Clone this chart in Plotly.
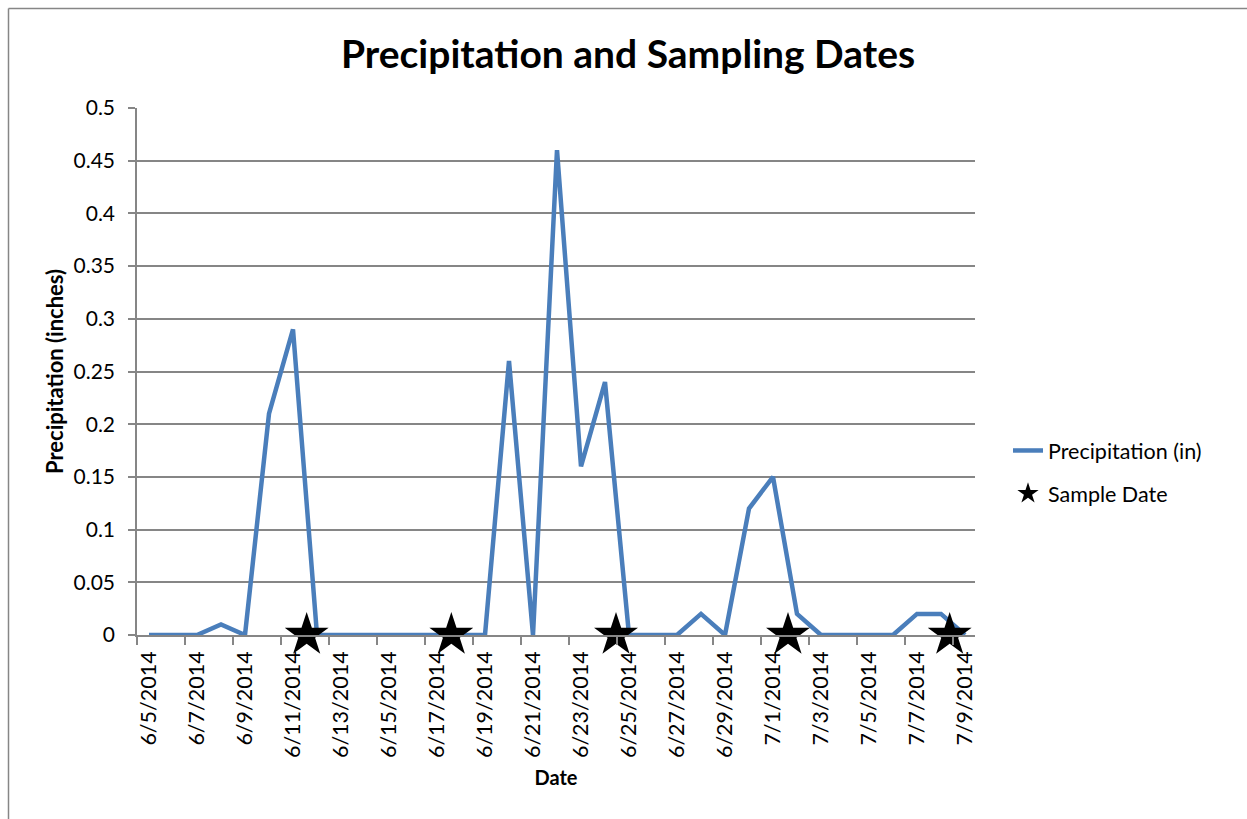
import plotly.graph_objects as go
import pandas as pd

dates = pd.date_range("2014-06-05", "2014-07-09", freq="D")
precip = [0, 0, 0, 0.01, 0, 0.21, 0.29, 0, 0, 0, 0, 0, 0, 0, 0,
          0.26, 0, 0.46, 0.16, 0.24, 0, 0, 0, 0.02, 0, 0.12, 0.15, 0.02,
          0, 0, 0, 0, 0.02, 0.02, 0]
sample_dates = ["2014-06-11 13:40", "2014-06-17 14:20", "2014-06-24 11:00",
                "2014-07-01 15:00", "2014-07-08 08:40"]
sample_vals = [0, 0, 0, 0, 0]

label_dates = dates[::2]
label_text = [f"{d.month}/{d.day}/{d.year}" for d in label_dates]
y_ticks = [0, 0.05, 0.1, 0.15, 0.2, 0.25, 0.3, 0.35, 0.4, 0.45, 0.5]
y_text = ["0", "0.05", "0.1", "0.15", "0.2", "0.25", "0.3", "0.35", "0.4", "0.45", "0.5"]

FONT = "Lato"
W, H = 1247, 819
# plot area in page coordinates: x 137..975, y 108..635
L, T = 137, 108
R, B = W - 975, H - 635
PW, PH = W - L - R, H - T - B

fig = go.Figure()
fig.add_trace(go.Scatter(x=dates, y=precip, mode="lines", name="Precipitation (in)",
                         legendgroup="a",
                         line=dict(color="#4A7EBB", width=4.5)))
fig.add_trace(go.Scatter(x=pd.to_datetime(sample_dates), y=sample_vals, mode="markers",
                         name="Sample Date", legendgroup="b",
                         marker=dict(symbol="star", size=33, color="black"),
                         cliponaxis=False))

px_x = lambda p: (p - L) / PW          # page px -> paper x
px_y = lambda p: (H - B - p) / PH      # page px (from top) -> paper y

fig.update_layout(
    width=W, height=H,
    margin=dict(l=L, r=R, t=T, b=B),
    paper_bgcolor="white", plot_bgcolor="white",
    font=dict(family=FONT, size=21, color="black"),
    title=dict(text="<b>Precipitation and Sampling Dates</b>", x=628 / W, xanchor="center",
               y=1 - 54 / H, yanchor="middle", font=dict(family=FONT, size=39, color="black")),
    showlegend=True,
    legend=dict(x=(1008 - 137) / PW, y=(635 - 472) / PH,
                xanchor="left", yanchor="middle", bgcolor="rgba(0,0,0,0)",
                tracegroupgap=12,
                font=dict(family=FONT, size=21.5)),
    xaxis=dict(
        type="date",
        range=["2014-06-04 12:00", "2014-07-09 10:00"],
        tickmode="array", tickvals=label_dates, ticktext=label_text,
        tickangle=-90, ticks="", showgrid=False, ticklabelstandoff=6,
        showline=True, linecolor="#868686", linewidth=1.5,
        minor=dict(ticks="outside", ticklen=8, tickcolor="#868686", tickwidth=1.5,
                   tick0="2014-06-04 12:00", dtick=2 * 86400000, showgrid=False),
        title=dict(text="<b>Date</b>", font=dict(family=FONT, size=20), standoff=14),
        tickfont=dict(family=FONT, size=21.5),
    ),
    yaxis=dict(
        range=[0, 0.5], tickmode="array", tickvals=y_ticks, ticktext=y_text,
        ticks="outside", ticklen=7, tickcolor="#868686", tickwidth=1.5,
        ticklabelstandoff=9,
        showgrid=True, gridcolor="#868686", gridwidth=1.5,
        showline=True, linecolor="#868686", linewidth=1.5, zeroline=False,
        title=dict(text="<b>Precipitation (inches)</b>", font=dict(family=FONT, size=22), standoff=4),
        tickfont=dict(family=FONT, size=21),
    ),
    shapes=[
        dict(type="line", xref="paper", yref="paper",
             x0=px_x(8.5), x1=px_x(W + 20), y0=px_y(8.5), y1=px_y(8.5),
             line=dict(color="#868686", width=1.5), layer="below"),
        dict(type="line", xref="paper", yref="paper",
             x0=px_x(8.5), x1=px_x(8.5), y0=px_y(8.5), y1=px_y(H + 20),
             line=dict(color="#868686", width=1.5), layer="below"),
    ],
)

fig.write_html("out.html", config={"displayModeBar": False},
               post_script="document.body.style.margin='0';document.body.style.overflow='hidden';")
